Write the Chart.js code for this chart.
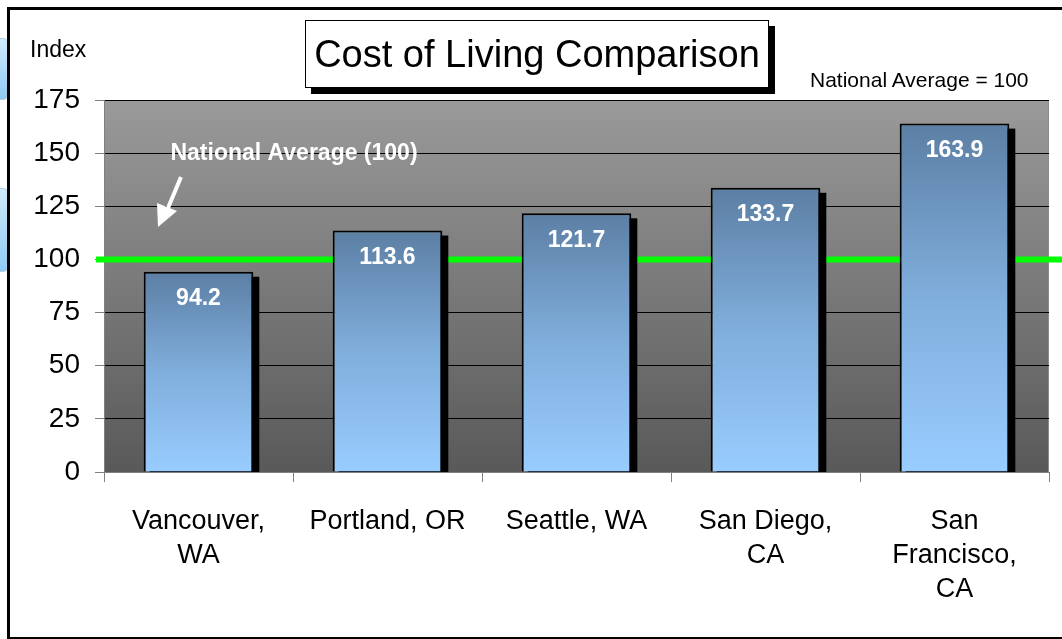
<!DOCTYPE html>
<html>
<head>
<meta charset="utf-8">
<script src="https://cdn.jsdelivr.net/npm/chart.js@4.4.1/dist/chart.umd.min.js"></script>
<style>
  body { margin: 0; background: #fff; font-family: "Liberation Sans", Arial, sans-serif; }
  #wrap { position: relative; width: 1062px; height: 639px; overflow: hidden; }
  .deco { position: absolute; left: -20px; width: 27px; border-radius: 6px;
          background: linear-gradient(#cfeafc, #8fcaf3); border: 1px solid #b0cfe4; }
  #frame { position: absolute; left: 7px; top: 7px; width: 1100px; height: 627px;
           border: 3px solid #000; background: #fff; }
  #myChart { position: absolute; left: 0; top: 0; }
  .txt { position: absolute; color: #000; white-space: nowrap; }
  #title { left: 305px; top: 20px; width: 462px; height: 66px; border: 1px solid #000;
           background: #fff; box-shadow: 6px 6px 0 #000; font-size: 38px;
           line-height: 66px; text-align: center; }
</style>
</head>
<body>
<div id="wrap">
  <div class="deco" style="top:38px;height:60px"></div>
  <div class="deco" style="top:188px;height:82px"></div>
  <div id="frame"></div>
  <canvas id="myChart" width="1062" height="639"></canvas>
  <div class="txt" id="title">Cost of Living Comparison</div>
  <div class="txt" style="left:30px;top:36px;font-size:23px">Index</div>
  <div class="txt" style="left:810px;top:68px;font-size:21px">National Average = 100</div>
</div>
<script>
const cities = [
  ["Vancouver,", "WA"],
  "Portland, OR",
  "Seattle, WA",
  ["San Diego,", "CA"],
  ["San", "Francisco,", "CA"],
];
const costIndex = [94.2, 113.6, 121.7, 133.7, 163.9];
const nationalAverage = 100;
const annotationText = "National Average (100)";

const FONT = "'Liberation Sans', Arial, sans-serif";

// gray gradient plot background + gray border
const plotBackground = {
  id: "plotBackground",
  beforeDraw(chart) {
    const { ctx, chartArea: a } = chart;
    const g = ctx.createLinearGradient(0, a.top, 0, a.bottom);
    g.addColorStop(0, "#9a9a9a");
    g.addColorStop(1, "#595959");
    ctx.save();
    ctx.fillStyle = g;
    ctx.fillRect(a.left, a.top, a.right - a.left, a.bottom - a.top);
    ctx.strokeStyle = "#8c8c8c";
    ctx.lineWidth = 1;
    ctx.strokeRect(a.left + 0.5, a.top + 0.5, a.right - a.left - 1, a.bottom - a.top);
    ctx.restore();
  },
};

// green national average line behind the bars, black drop shadows, labels
const averageLine = {
  id: "averageLine",
  beforeDatasetsDraw(chart) {
    const { ctx, chartArea: a } = chart;
    const y = chart.scales.y.getPixelForValue(nationalAverage);
    ctx.save();
    ctx.strokeStyle = "#00ff00";
    ctx.lineWidth = 6;
    ctx.beginPath();
    ctx.moveTo(a.left - 8, y);
    ctx.lineTo(chart.width, y);
    ctx.stroke();

    // shadows (bar element clips its own canvas shadow, so draw them here)
    ctx.beginPath();
    ctx.rect(a.left, a.top, a.right - a.left, a.bottom - a.top);
    ctx.clip();
    ctx.fillStyle = "#000";
    chart.getDatasetMeta(0).data.forEach((bar) => {
      const p = bar.getProps(["x", "y", "base", "width"], true);
      ctx.fillRect(p.x - p.width / 2 + 6, p.y + 5, p.width, p.base - p.y);
    });
    ctx.restore();
  },
  afterDatasetsDraw(chart) {
    const { ctx, chartArea: a } = chart;

    // value labels
    ctx.save();
    ctx.fillStyle = "#fff";
    ctx.font = "bold 23px " + FONT;
    ctx.textAlign = "center";
    ctx.textBaseline = "middle";
    const meta = chart.getDatasetMeta(0);
    meta.data.forEach((bar, i) => {
      ctx.fillText(costIndex[i].toFixed(1), bar.x, bar.y + 27);
    });

    // annotation text + arrow
    ctx.fillText(annotationText, a.left + 190, 154);
    ctx.strokeStyle = "#fff";
    ctx.fillStyle = "#fff";
    ctx.lineWidth = 4;
    ctx.beginPath();
    ctx.moveTo(a.left + 77, 177);
    ctx.lineTo(a.left + 64, 208);
    ctx.stroke();
    ctx.beginPath();
    ctx.moveTo(a.left + 54, 227);
    ctx.lineTo(a.left + 53, 203);
    ctx.lineTo(a.left + 73, 211);
    ctx.closePath();
    ctx.fill();
    ctx.restore();
  },
};

function barGradient(context) {
  const chart = context.chart;
  const { ctx, chartArea } = chart;
  if (!chartArea || context.dataIndex === undefined) return "#7fadd9";
  const yScale = chart.scales.y;
  const top = yScale.getPixelForValue(costIndex[context.dataIndex]);
  const bottom = yScale.getPixelForValue(0);
  const g = ctx.createLinearGradient(0, top, 0, bottom);
  g.addColorStop(0, "#5c7fa4");
  g.addColorStop(0.5, "#80aedc");
  g.addColorStop(1, "#99ccff");
  return g;
}

new Chart(document.getElementById("myChart"), {
  type: "bar",
  data: {
    labels: cities,
    datasets: [
      {
        data: costIndex,
        backgroundColor: barGradient,
        borderColor: "#000",
        borderWidth: 2,
        borderSkipped: "bottom",
        categoryPercentage: 1,
        barPercentage: 0.58,
      },
    ],
  },
  options: {
    responsive: false,
    animation: false,
    layout: { padding: { left: 0, top: 100, right: 13, bottom: 0 } },
    plugins: {
      legend: { display: false },
      tooltip: { enabled: false },
    },
    scales: {
      x: {
        afterFit: (s) => { s.height = 167; },
        grid: {
          drawOnChartArea: false,
          drawTicks: true,
          tickLength: 10,
          color: "#808080",
          offset: true,
        },
        border: { color: "#808080" },
        ticks: {
          color: "#000",
          padding: 23,
          font: { family: FONT, size: 27, lineHeight: 1.25 },
          maxRotation: 0,
          autoSkip: false,
        },
      },
      y: {
        min: 0,
        max: 175,
        afterFit: (s) => { s.width = 104; },
        grid: { color: "#000", lineWidth: 1, tickLength: 9, tickColor: "#808080" },
        border: { color: "#808080" },
        ticks: {
          stepSize: 25,
          color: "#000",
          padding: 15,
          font: { family: FONT, size: 28 },
        },
      },
    },
  },
  plugins: [plotBackground, averageLine],
});
</script>
</body>
</html>
